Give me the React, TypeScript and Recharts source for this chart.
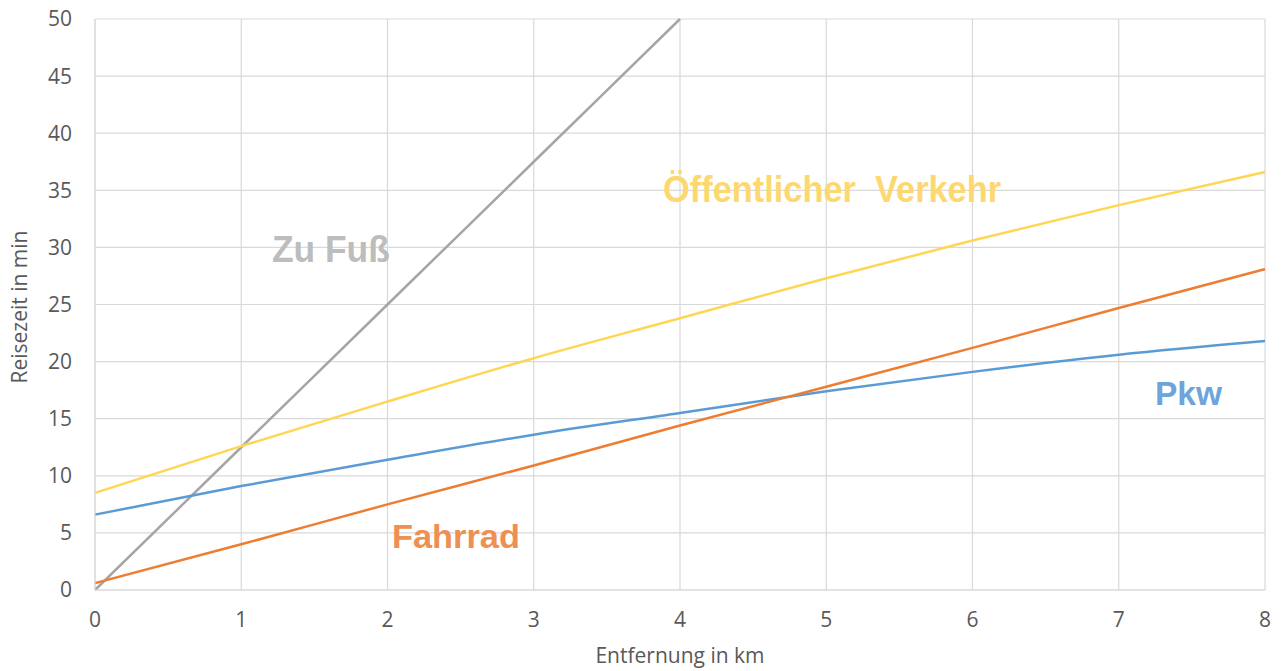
import { LineChart, Line, XAxis, YAxis, CartesianGrid, ReferenceDot } from 'recharts';

// Entfernung in km
const distances = [0, 1, 2, 3, 4, 5, 6, 7, 8];

// Reisezeit in min je Verkehrsmittel
const zuFuss = [0, 12.5, 25, 37.5, 50];
const oepnv = [8.5, 12.6, 16.5, 20.3, 23.8, 27.3, 30.6, 33.7, 36.6];
const pkw = [6.6, 9.1, 11.4, 13.6, 15.5, 17.4, 19.1, 20.6, 21.8];
const fahrrad = [0.6, 4.0, 7.5, 10.9, 14.4, 17.8, 21.2, 24.7, 28.1];

const xTicks = [0, 1, 2, 3, 4, 5, 6, 7, 8];
const yTicks = [0, 5, 10, 15, 20, 25, 30, 35, 40, 45, 50];

// In-plot labels: [text, x, y(baseline), colour, narrow?, width]
const labels: [string, number, number, string, boolean, number][] = [
  ['Zu Fuß', 1.613, 28.7, '#bdbdbd', true, 118],
  ['Öffentlicher  Verkehr', 5.04, 34.0, '#fdd871', true, 338],
  ['Pkw', 7.477, 16.2, '#6fa4da', false, 67],
  ['Fahrrad', 2.468, 3.68, '#ee8f53', false, 128],
];

const chartData = distances.map((d, i) => ({
  km: d,
  zuFuss: zuFuss[i],
  oepnv: oepnv[i],
  pkw: pkw[i],
  fahrrad: fahrrad[i],
}));

const tickStyle = { fill: '#595959', fontSize: 21, fontFamily: 'Open Sans, sans-serif' };
const titleColor = '#595959';

export default function App() {
  return (
    <div style={{ position: 'absolute', left: 0, top: 0, background: '#fff' }}>
      <LineChart
        width={1286}
        height={671}
        data={chartData}
        margin={{ top: 19, right: 21, left: 0, bottom: 0 }}
      >
        <CartesianGrid stroke="#d9d9d9" strokeWidth={1.2} />
        <XAxis
          type="number"
          dataKey="km"
          domain={[0, 8]}
          ticks={xTicks}
          height={81}
          stroke="#d9d9d9"
          tickLine={false}
          tickSize={0}
          tickMargin={22}
          tick={tickStyle}
          label={{
            content: (p: any) => {
              const vb = p.viewBox || {};
              const cx = vb.x != null ? vb.x + vb.width / 2 : 680;
              return (
                <text x={cx} y={663} textAnchor="middle" fill={titleColor} fontSize={21} fontFamily="Open Sans, sans-serif">
                  Entfernung in km
                </text>
              );
            },
          }}
        />
        <YAxis
          type="number"
          domain={[0, 50]}
          ticks={yTicks}
          width={95}
          stroke="#d9d9d9"
          tickLine={false}
          tickSize={0}
          tickMargin={23}
          tick={tickStyle}
          label={{
            content: () => (
              <text
                x={27}
                y={307}
                transform="rotate(-90 27 307)"
                textAnchor="middle"
                fill={titleColor}
                fontSize={21}
                fontFamily="Open Sans, sans-serif"
              >
                Reisezeit in min
              </text>
            ),
          }}
        />
        <Line type="monotone" dataKey="zuFuss" stroke="#a5a5a5" strokeWidth={2.5} dot={false} isAnimationActive={false} />
        <Line type="monotone" dataKey="oepnv" stroke="#ffd653" strokeWidth={2.5} dot={false} isAnimationActive={false} />
        <Line type="monotone" dataKey="pkw" stroke="#5b9bd5" strokeWidth={2.5} dot={false} isAnimationActive={false} />
        <Line type="monotone" dataKey="fahrrad" stroke="#ed7d31" strokeWidth={2.5} dot={false} isAnimationActive={false} />
        {labels.map(([text, x, y, color, narrow, w]) => (
          <ReferenceDot
            key={text}
            x={x}
            y={y}
            r={0}
            isFront
            shape={(p: any) => (
              <text
                x={p.cx}
                y={p.cy}
                textAnchor="middle"
                fill={color}
                fontSize={narrow ? 37 : 33}
                fontWeight="bold"
                fontFamily={narrow ? 'Liberation Sans Narrow, Liberation Sans, Arial, sans-serif' : 'Liberation Sans, Arial, sans-serif'}
                textLength={w}
                lengthAdjust="spacingAndGlyphs"
                style={{ whiteSpace: 'pre' }}
              >
                {text}
              </text>
            )}
          />
        ))}
      </LineChart>
    </div>
  );
}
